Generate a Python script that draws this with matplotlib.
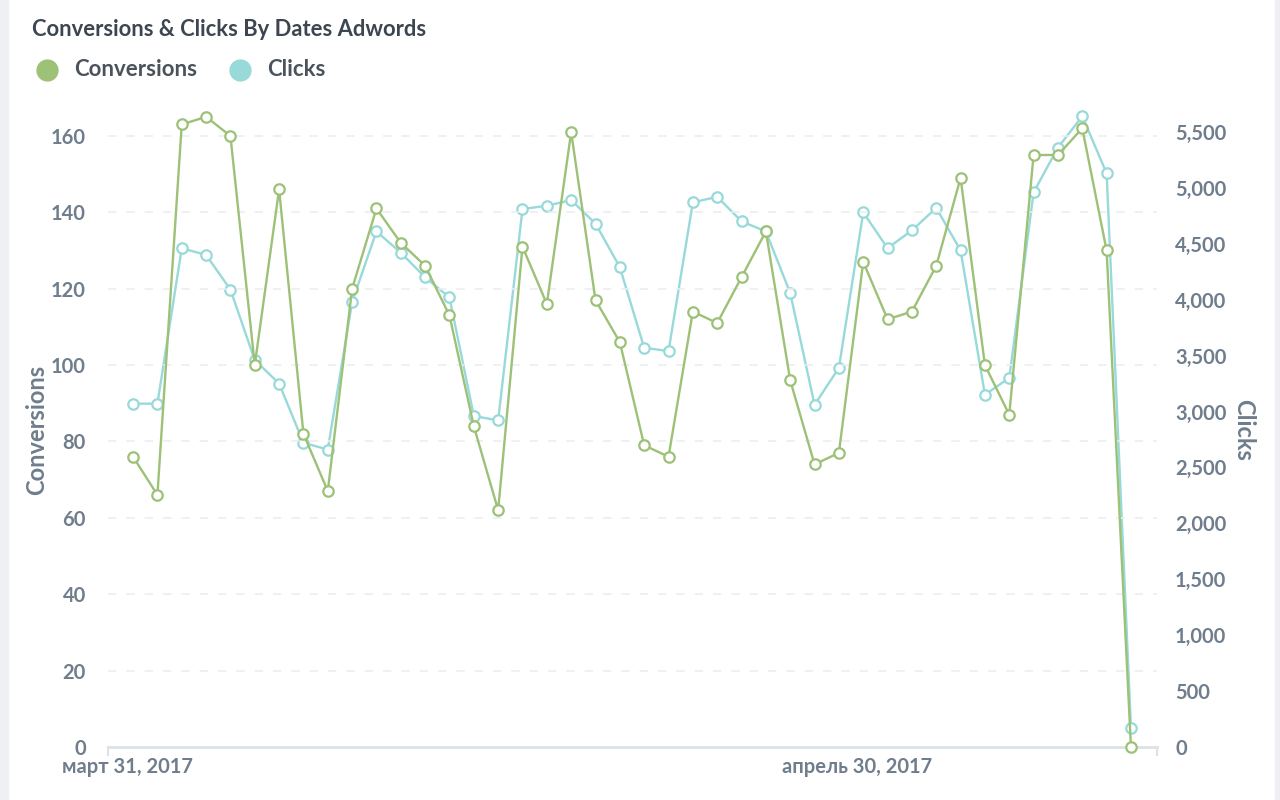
import numpy as np
import pandas as pd
import matplotlib
matplotlib.use("Agg")
import matplotlib.pyplot as plt
import matplotlib.dates as mdates
import matplotlib.transforms as mtrans
from matplotlib.lines import Line2D
from matplotlib.patches import Rectangle

# ── Data ──────────────────────────────────────────────────
dates = pd.date_range("2017-03-31", periods=42, freq="D")

conversions = [76, 66, 163, 165, 160, 100, 146, 82, 67, 120,
               141, 132, 126, 113, 84, 62, 131, 116, 161, 117,
               106, 79, 76, 114, 111, 123, 135, 96, 74, 77,
               127, 112, 114, 126, 149, 100, 87, 155, 155, 162,
               130, 0]

clicks = [3070, 3070, 4460, 4400, 4090, 3460, 3250, 2720, 2660, 3980,
          4610, 4420, 4200, 4020, 2960, 2920, 4810, 4840, 4890, 4680,
          4290, 3570, 3540, 4870, 4920, 4700, 4610, 4060, 3060, 3390,
          4780, 4460, 4620, 4820, 4440, 3150, 3300, 4960, 5360, 5640,
          5130, 170]

tick_dates = [pd.Timestamp("2017-03-31"), pd.Timestamp("2017-04-30")]
tick_labels = ["март 31, 2017", "апрель 30, 2017"]

# ── Style ─────────────────────────────────────────────────
GREEN = "#9cc177"
CYAN = "#98d9da"
TXT = "#6f7d8c"
plt.rcParams["font.family"] = ["Lato", "DejaVu Sans"]

fig = plt.figure(figsize=(12.8, 8), dpi=100)
fig.patch.set_facecolor("white")
fig.patches.append(Rectangle((0, 0), 8 / 1280, 1, transform=fig.transFigure,
                             color="#eef0f3", zorder=0))
fig.patches.append(Rectangle((1275 / 1280, 0), 5 / 1280, 1, transform=fig.transFigure,
                             color="#eef0f3", zorder=0))

ax = fig.add_axes([108 / 1280, 53 / 800, 1049 / 1280, 634 / 800])
ax2 = ax.twinx()

# ── Lines ────────────────────────────────────────────────
mk = dict(marker="o", markersize=7.5, markerfacecolor="white", markeredgewidth=1.6,
          linewidth=1.7, clip_on=False)
ax.plot(dates, conversions, color=GREEN, zorder=3, **mk)
ax2.plot(dates, clicks, color=CYAN, zorder=3, **mk)
ax.set_zorder(ax2.get_zorder() + 1)
ax.patch.set_visible(False)

# ── Axes ─────────────────────────────────────────────────
x0 = mdates.date2num(dates[0]) - 1.03
x1 = mdates.date2num(dates[-1]) + 1.07
ax.set_xlim(x0, x1)
ax.set_ylim(0, 166)
ax2.set_ylim(0, 166 * 5500 / 160 * 611 / 615)

ax.set_yticks(range(0, 161, 20))
ax2.set_yticks(range(0, 5501, 500))
ax2.set_yticklabels([f"{v:,}" for v in range(0, 5501, 500)])
ax.set_xticks(mdates.date2num(tick_dates))
ax.set_xticklabels(tick_labels)

for a in (ax, ax2):
    for s in a.spines.values():
        s.set_visible(False)
    a.tick_params(length=0, colors=TXT, labelsize=14.5)
    for lbl in a.get_yticklabels() + a.get_xticklabels():
        lbl.set_fontweight("bold")
ax.tick_params(axis="y", pad=16)
ax2.tick_params(axis="y", pad=13)
ax.tick_params(axis="x", pad=7)
shift = mtrans.ScaledTranslation(-6 / 100, 0, fig.dpi_scale_trans)
for lbl in ax.get_xticklabels():
    lbl.set_transform(lbl.get_transform() + shift)

ax.spines["bottom"].set_visible(True)
ax.spines["bottom"].set_color("#dde2e7")
ax.spines["bottom"].set_linewidth(2)
for xe in (0, 1):
    ax.add_line(Line2D([xe, xe], [0, -0.012], transform=ax.transAxes,
                       color="#dde2e7", linewidth=1.5, clip_on=False))

ax.grid(axis="y", color="#ebedf0", linestyle=(0, (5, 6)), linewidth=1.2)
ax.set_axisbelow(True)
for gl in ax.get_ygridlines()[:1]:
    gl.set_visible(False)

ax.set_ylabel("Conversions", color=TXT, fontsize=17, fontweight="bold", labelpad=2)
ax2.set_ylabel("Clicks", color=TXT, fontsize=17, fontweight="bold",
               rotation=-90, labelpad=21)

# ── Title & legend ───────────────────────────────────────
fig.text(32 / 1280, 1 - 30 / 800, "Conversions & Clicks By Dates Adwords",
         fontsize=15.8, fontweight="bold", color="#3d4650", va="center")
for cx, tx, col, name in [(47, 74, GREEN, "Conversions"), (240, 267, CYAN, "Clicks")]:
    fig.add_artist(Line2D([cx / 1280], [1 - 70 / 800], marker="o", markersize=15,
                          color=col, linestyle="none", transform=fig.transFigure))
    fig.text(tx / 1280, 1 - 70 / 800, name, fontsize=16, fontweight="bold",
             color="#4a535c", va="center")

plt.savefig("out.png", dpi=100)
